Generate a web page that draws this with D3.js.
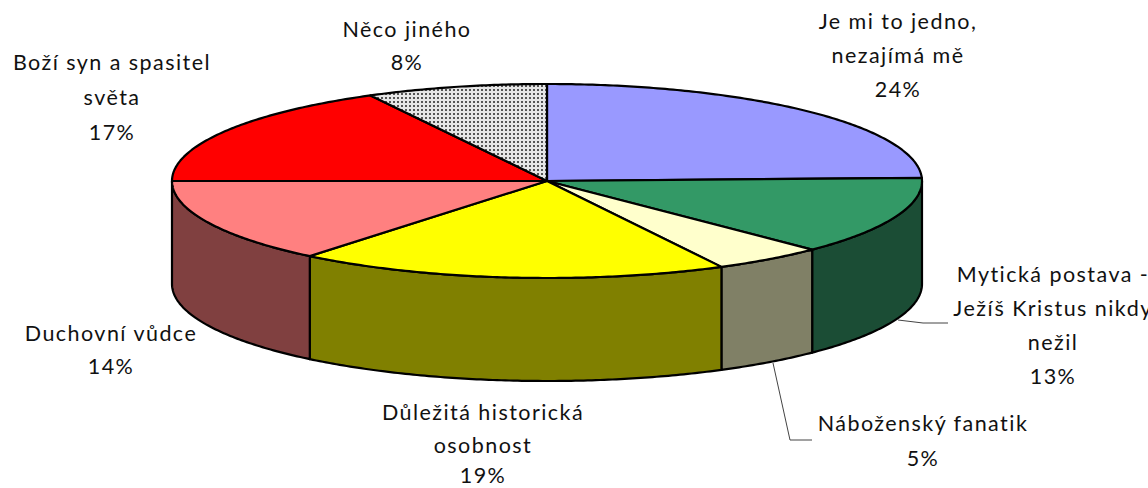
<!DOCTYPE html>
<html><head><meta charset="utf-8">
<style>html,body{margin:0;padding:0;background:#fff;overflow:hidden}svg{display:block}
text{font-family:Lato,"Open Sans",sans-serif;font-size:21.5px;letter-spacing:1.45px;fill:#111;text-anchor:middle}</style>
<script src="https://cdn.jsdelivr.net/npm/d3@7"></script></head><body>
<script>
const categories=["Je mi to jedno, nezajímá mě","Mytická postava - Ježíš Kristus nikdy nežil","Náboženský fanatik","Důležitá historická osobnost","Duchovní vůdce","Boží syn a spasitel světa","Něco jiného"];
const values=[24.49,13.01,4.8,18.6,14.1,17.2,7.8];
const topColors=["#9999FF","#339966","#FFFFCC","#FFFF00","#FF8080","#FF0000","url(#dots)"];
const sideColors=["#4D4D80","#1B4D35","#808066","#808000","#804040","#800000","#777777"];
const labelLines=[["Je mi to jedno,","nezajímá mě"],["Mytická postava -","Ježíš Kristus nikdy","nežil"],["Náboženský fanatik"],["Důležitá historická","osobnost"],["Duchovní vůdce"],["Boží syn a spasitel","světa"],["Něco jiného"]];

const W=1148,H=488,cx=547,cy=181,rx=375,ry=97,depth=103;
const svg=d3.select("body").append("svg").attr("width",W).attr("height",H);
const pat=svg.append("defs").append("pattern").attr("id","dots").attr("width",4).attr("height",4).attr("patternUnits","userSpaceOnUse");
pat.append("rect").attr("width",4).attr("height",4).attr("fill","#e6e6e6");
pat.append("rect").attr("x",1).attr("y",1).attr("width",2).attr("height",2).attr("fill","#555");

const arcs=d3.pie().sort(null).value(d=>d)(values);
const px=d3.scaleLinear().domain([-1,1]).range([cx-rx,cx+rx]);
const py=d3.scaleLinear().domain([-1,1]).range([cy-ry,cy+ry]);
const pt=(t,dz=0)=>[px(Math.sin(t)),py(-Math.cos(t))+dz];
const line=d3.line();
const rim=(a,b,dz=0)=>{const n=Math.max(2,Math.ceil((b-a)*90));return d3.range(n+1).map(i=>pt(a+(b-a)*i/n,dz));};
const stroke={stroke:"#000","stroke-width":2.2,"stroke-linejoin":"round"};
const apply=(s,o)=>{for(const k in o)s.attr(k,o[k]);return s;};

// side walls
const HALF=Math.PI/2,TH=3*Math.PI/2;
const walls=arcs.map((d,i)=>({i,a:Math.max(d.startAngle,HALF),b:Math.min(d.endAngle,TH)})).filter(d=>d.b>d.a);
apply(svg.append("g").selectAll("path").data(walls).join("path")
  .attr("d",d=>line(rim(d.a,d.b).concat(rim(d.a,d.b,depth).reverse()))+"Z")
  .attr("fill",d=>sideColors[d.i]),stroke);

// top faces
apply(svg.append("g").selectAll("path").data(arcs).join("path")
  .attr("d",d=>line([[cx,cy]].concat(rim(d.startAngle,d.endAngle)))+"Z")
  .attr("fill",(d,i)=>topColors[i]),stroke);

// leader lines
const leaders=[[[898,320],[923,323],[948,323]],[[773,363],[790,440],[812,440]]];
svg.append("g").selectAll("path").data(leaders).join("path")
  .attr("d",line).attr("fill","none").attr("stroke","#444").attr("stroke-width",1);

// labels
const anchors=[[898,[29,63,97]],[1053,[282,316,350,384]],[923,[431,466]],[483,[420,453,483]],[111,[341,374]],[112,[70,105,140]],[407,[37,70]]];
const fmt=d3.format(".0f");
const g=svg.append("g");
labelLines.forEach((ls,i)=>{
  const [x,ys]=anchors[i];
  ls.concat(fmt(values[i])+"%").forEach((t,j)=>g.append("text").attr("x",x).attr("y",ys[j]).text(t));
});
</script></body></html>
